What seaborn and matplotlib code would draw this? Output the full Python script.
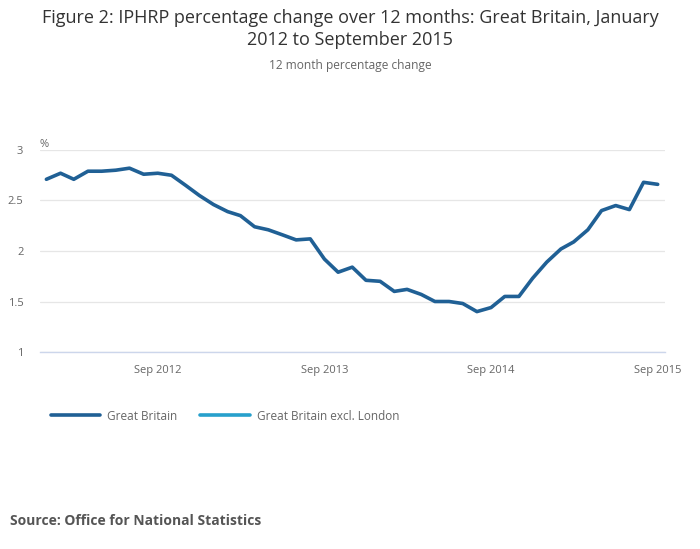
import pandas as pd
import numpy as np
import matplotlib
matplotlib.use("Agg")
import matplotlib.pyplot as plt
import matplotlib.dates as mdates
from matplotlib.lines import Line2D
import seaborn as sns

# monthly 12 month % change, Jan 2012 - Sep 2015
months = pd.date_range("2012-01-01", "2015-09-01", freq="MS")
gb = [2.71, 2.77, 2.71, 2.79, 2.79, 2.80, 2.82, 2.76, 2.77, 2.75, 2.65, 2.55,
      2.46, 2.39, 2.35, 2.24, 2.21, 2.16, 2.11, 2.12, 1.92, 1.79, 1.84, 1.71,
      1.70, 1.60, 1.62, 1.57, 1.50, 1.50, 1.48, 1.40, 1.44, 1.55, 1.55, 1.73,
      1.89, 2.02, 2.09, 2.21, 2.40, 2.45, 2.41, 2.68, 2.66]
series_names = ["Great Britain", "Great Britain excl. London"]
series_colors = ["#206095", "#27a0cc"]
y_ticks = [1, 1.5, 2, 2.5, 3]
x_ticks = pd.to_datetime(["2012-09-01", "2013-09-01", "2014-09-01", "2015-09-01"])

df = pd.DataFrame({"month": months, "value": gb})

sns.set_style("white")
plt.rcParams["font.family"] = ["Open Sans", "DejaVu Sans"]

fig = plt.figure(figsize=(7, 5.49), dpi=100)
ax = fig.add_axes([40 / 700, 1 - 352 / 549, 625 / 700, 202 / 549])

sns.lineplot(data=df, x="month", y="value", color=series_colors[0], linewidth=2.6, ax=ax)

ax.set_xlim(months[0] - pd.Timedelta(days=14), months[-1] + pd.Timedelta(days=16))
ax.set_ylim(1, 3)
ax.set_yticks(y_ticks)
ax.set_yticklabels(["1", "1.5", "2", "2.5", "3"])
ax.set_xticks(x_ticks)
ax.xaxis.set_major_formatter(mdates.DateFormatter("%b %Y"))
ax.set_xlabel("")
ax.set_ylabel("")

ax.grid(axis="y", color="#e6e6e6", linewidth=0.9)
ax.set_axisbelow(True)
for s in ["top", "right", "left"]:
    ax.spines[s].set_visible(False)
ax.spines["bottom"].set_color("#ccd6eb")
ax.spines["bottom"].set_linewidth(1)
ax.tick_params(axis="x", direction="out", length=7, width=1, color="#ccd6eb",
               labelsize=8, labelcolor="#666666", pad=2)
ax.tick_params(axis="y", length=0, labelsize=8, labelcolor="#666666", pad=12)

ax.text(0, 1.0, "%", transform=ax.transAxes, fontsize=8, color="#666666", ha="left", va="bottom")

fig.text(0.5, 1 - 18 / 549, "Figure 2: IPHRP percentage change over 12 months: Great Britain, January",
         ha="center", va="center", fontsize=13, color="#333333")
fig.text(0.5, 1 - 40 / 549, "2012 to September 2015",
         ha="center", va="center", fontsize=13, color="#333333")
fig.text(0.5, 1 - 65 / 549, "12 month percentage change",
         ha="center", va="center", fontsize=8.6, color="#666666")

handles = [Line2D([0], [0], color=c, linewidth=2.6) for c in series_colors]
fig.legend(handles, series_names, loc="center left", bbox_to_anchor=(40 / 700, 1 - 416 / 549),
           ncol=2, frameon=False, fontsize=8.5, labelcolor="#666666",
           handlelength=4.2, handletextpad=0.6, columnspacing=1.9)

fig.text(10 / 700, 1 - 521 / 549, "Source: Office for National Statistics",
         ha="left", va="center", fontsize=10, fontweight="bold", color="#555555")

fig.savefig("out.png", dpi=100)
